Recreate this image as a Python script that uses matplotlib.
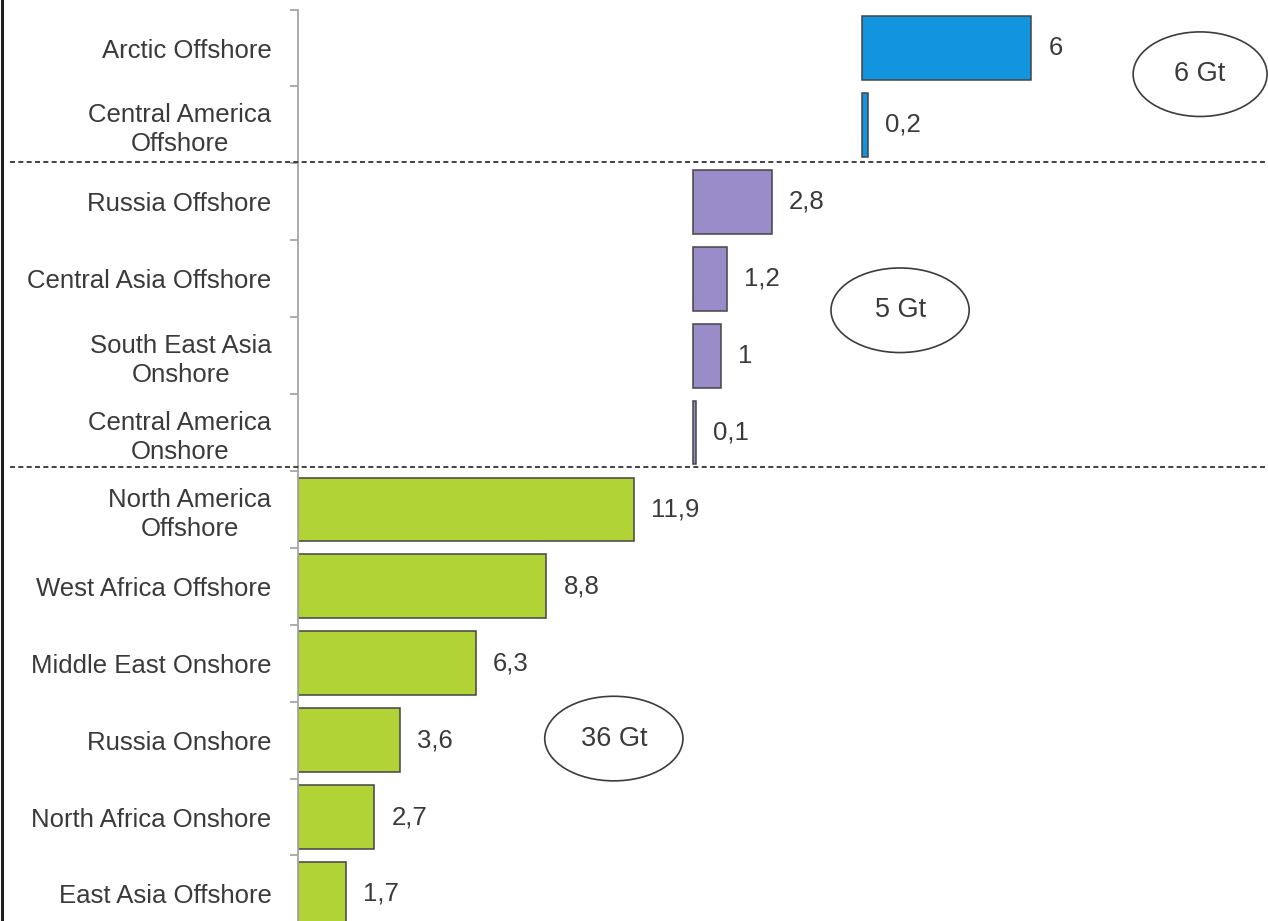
import matplotlib
matplotlib.use("Agg")
import matplotlib.pyplot as plt
from matplotlib.patches import Ellipse
from matplotlib.lines import Line2D
from matplotlib.transforms import blended_transform_factory

plt.rcParams['font.family'] = ['Liberation Sans', 'DejaVu Sans']

# Regions (top to bottom) and their resources in Gt
categories = ["Arctic Offshore", "Central America\nOffshore",
              "Russia Offshore", "Central Asia Offshore", "South East Asia\nOnshore",
              "Central America\nOnshore",
              "North America\nOffshore", "West Africa Offshore", "Middle East Onshore",
              "Russia Onshore", "North Africa Onshore", "East Asia Offshore"]
values = [6, 0.2, 2.8, 1.2, 1, 0.1, 11.9, 8.8, 6.3, 3.6, 2.7, 1.7]
value_labels = ["6", "0,2", "2,8", "1,2", "1", "0,1", "11,9", "8,8", "6,3", "3,6", "2,7", "1,7"]
group_of = [0, 0, 1, 1, 1, 1, 2, 2, 2, 2, 2, 2]
group_offsets = [20.0, 14.0, 0.0]
group_colors = ["#1394DF", "#9A8BC9", "#B2D335"]
group_totals = ["6 Gt", "5 Gt", "36 Gt"]

W, H = 1268, 921
fig = plt.figure(figsize=(W / 100, H / 100), dpi=100)
ax_left, ax_right, ax_top, ax_bottom = 298, 1268, 9.6, 921
ax = fig.add_axes([ax_left / W, (H - ax_bottom) / H,
                   (ax_right - ax_left) / W, (ax_bottom - ax_top) / H])

px_per_unit = 28.2
row_px = 76.9

ypos = list(range(len(categories)))
lefts = [group_offsets[g] for g in group_of]
colors = [group_colors[g] for g in group_of]
ax.barh(ypos, values, left=lefts, height=0.83, color=colors,
        edgecolor="#444444", linewidth=1.1)

text_color = "#3a3a3a"
for y, v, l, lab in zip(ypos, values, lefts, value_labels):
    ax.text(l + v + 0.62, y, lab, ha="left", va="center",
            fontsize=18.5, color=text_color)

# Group separators
trans = blended_transform_factory(ax.transAxes, ax.transData)
for ysep in (1.48, 5.45):
    ax.add_line(Line2D([-0.297, 1.0], [ysep, ysep], transform=trans,
                       color="#222222", lw=1.2, linestyle=(0, (3, 2)),
                       clip_on=False, zorder=5))

# Group total bubbles
bubbles = [(31.99, 0.34, 4.75, 1.1), (21.35, 3.41, 4.9, 1.1), (11.2, 8.98, 4.9, 1.1)]
for (cx, cy, w, h), txt in zip(bubbles, group_totals):
    ax.add_patch(Ellipse((cx, cy), w, h, facecolor="white", edgecolor="#3c3c3c",
                         lw=1.2, clip_on=False, zorder=4))
    ax.text(cx, cy, txt, ha="center", va="center", fontsize=19.5, color=text_color, zorder=6)

# Axes styling
for s in ("top", "right", "bottom"):
    ax.spines[s].set_visible(False)
ax.spines["left"].set_color("#a6a6a6")
ax.spines["left"].set_linewidth(1.3)
ax.set_xticks([])
ax.set_yticks(ypos)
ax.set_yticklabels(categories, fontsize=18.5, color=text_color)
for t in ax.get_yticklabels():
    t.set_multialignment("center")
    t.set_linespacing(1.26)
ax.tick_params(axis="y", which="major", length=0, pad=19)
ax.set_yticks([i - 0.5 for i in range(len(categories) + 1)], minor=True)
ax.tick_params(axis="y", which="minor", length=6, width=1.3, color="#a6a6a6", direction="out")

# Limits set last so tick placement does not widen them
ax.set_xlim(0, (ax_right - ax_left) / px_per_unit)
ax.set_ylim((ax_bottom - 48) / row_px, -0.5)

# Frame line on the left edge
fig.add_artist(Line2D([1.5 / W, 1.5 / W], [0, 1], transform=fig.transFigure,
                      color="#1e1e1e", lw=2.2))

fig.savefig("out.png", dpi=100, facecolor="white")
